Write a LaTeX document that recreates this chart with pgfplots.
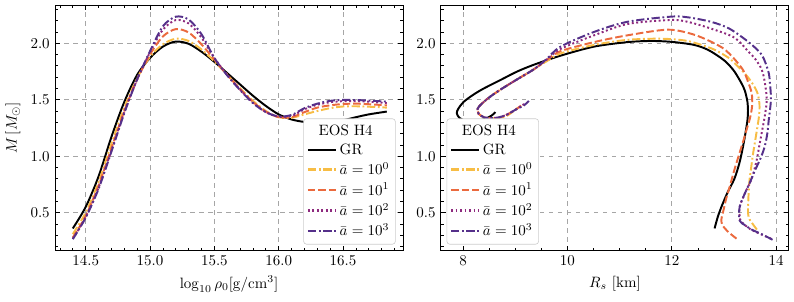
\documentclass[border=0pt]{standalone}
\usepackage{pgfplots}
\pgfplotsset{compat=1.18}
\definecolor{ca0}{HTML}{F7BD45}
\definecolor{ca1}{HTML}{EB6A3E}
\definecolor{ca2}{HTML}{8E2A7E}
\definecolor{ca3}{HTML}{55308A}
\pgfplotsset{
 myaxis/.style={
   scale only axis, width=232pt, height=164pt,
   ymin=0.161, ymax=2.339,
   ytick={0.5,1.0,1.5,2.0},
   minor ytick={0.2,0.3,...,2.31},
   tick align=inside,
   major tick length=3.5pt, minor tick length=2pt,
   every tick/.style={black, line width=0.5pt},
   grid=major,
   major grid style={dashed, black!35, line width=0.4pt},
   yticklabel style={/pgf/number format/.cd,fixed,fixed zerofill,precision=1},
   axis line style={line width=0.6pt},
   legend cell align=left,
   legend image code/.code={\draw[##1, line width=1.6pt, sharp plot] (0cm,0cm) -- (0.65cm,0cm);},
   legend style={draw=black!20, rounded corners=2pt, fill=white, inner sep=2pt, row sep=0pt},
 },
 gr/.style={black, line width=1.3pt, smooth, no markers},
 a0/.style={ca0, line width=1.3pt, dash pattern=on 5.5pt off 1.8pt on 1.2pt off 1.8pt, smooth, no markers},
 a1/.style={ca1, line width=1.3pt, dash pattern=on 5pt off 2pt, smooth, no markers},
 a2/.style={ca2, line width=1.3pt, dash pattern=on 1.3pt off 1.7pt, smooth, no markers},
 a3/.style={ca3, line width=1.3pt, dash pattern=on 5.5pt off 1.8pt on 1.2pt off 1.8pt, smooth, no markers},
}
\begin{document}
\begin{tikzpicture}
\begin{axis}[myaxis,
  at={(0pt,0pt)}, anchor=south west,
  xmin=14.262, xmax=16.966,
  xtick={14.5,15.0,15.5,16.0,16.5},
  minor xtick={14.3,14.4,...,16.95},
  xticklabel style={/pgf/number format/.cd,fixed,fixed zerofill,precision=1},
  xlabel={$\log_{10}\rho_0[\mathrm{g/cm^3}]$},
  ylabel={$M\,[M_\odot]$},
  legend style={at={(0.979,0.026)}, anchor=south east},
]
\addlegendimage{empty legend}
\addlegendentry{\hspace{-14pt}EOS H4}
\addplot[gr] coordinates {(14.40,0.36)(14.50,0.55)(14.60,0.82)(14.70,1.17)(14.80,1.48)(14.90,1.72)(15.00,1.87)(15.10,1.97)(15.20,2.015)(15.30,1.995)(15.40,1.925)(15.50,1.835)(15.60,1.735)(15.70,1.635)(15.80,1.535)(15.90,1.445)(16.00,1.37)(16.10,1.325)(16.20,1.303)(16.30,1.297)(16.40,1.302)(16.50,1.318)(16.60,1.345)(16.70,1.37)(16.84,1.395)};
\addlegendentry{GR}
\addplot[a0] coordinates {(14.40,0.31)(14.50,0.50)(14.60,0.77)(14.70,1.11)(14.80,1.43)(14.90,1.69)(15.00,1.88)(15.10,1.99)(15.20,2.04)(15.30,2.02)(15.40,1.945)(15.50,1.84)(15.60,1.72)(15.70,1.60)(15.80,1.49)(15.90,1.40)(16.00,1.345)(16.10,1.34)(16.20,1.37)(16.30,1.40)(16.40,1.425)(16.50,1.44)(16.60,1.442)(16.70,1.438)(16.84,1.43)};
\addlegendentry{$\bar{a}=10^0$}
\addplot[a1] coordinates {(14.40,0.28)(14.50,0.47)(14.60,0.74)(14.70,1.07)(14.80,1.40)(14.90,1.68)(15.00,1.90)(15.10,2.06)(15.20,2.125)(15.30,2.095)(15.40,1.99)(15.50,1.855)(15.60,1.72)(15.70,1.595)(15.80,1.48)(15.90,1.395)(16.00,1.345)(16.10,1.345)(16.20,1.39)(16.30,1.43)(16.40,1.45)(16.50,1.462)(16.60,1.465)(16.70,1.46)(16.84,1.45)};
\addlegendentry{$\bar{a}=10^1$}
\addplot[a2] coordinates {(14.40,0.27)(14.50,0.46)(14.60,0.72)(14.70,1.05)(14.80,1.39)(14.90,1.68)(15.00,1.92)(15.10,2.12)(15.20,2.205)(15.30,2.175)(15.40,2.05)(15.50,1.87)(15.60,1.72)(15.70,1.59)(15.80,1.475)(15.90,1.39)(16.00,1.35)(16.10,1.355)(16.20,1.415)(16.30,1.455)(16.40,1.478)(16.50,1.487)(16.60,1.487)(16.70,1.482)(16.84,1.47)};
\addlegendentry{$\bar{a}=10^2$}
\addplot[a3] coordinates {(14.40,0.265)(14.50,0.455)(14.60,0.71)(14.70,1.04)(14.80,1.38)(14.90,1.68)(15.00,1.93)(15.10,2.15)(15.20,2.235)(15.30,2.21)(15.40,2.08)(15.50,1.87)(15.60,1.715)(15.70,1.585)(15.80,1.47)(15.90,1.39)(16.00,1.352)(16.10,1.365)(16.20,1.425)(16.30,1.465)(16.40,1.49)(16.50,1.498)(16.60,1.497)(16.70,1.492)(16.84,1.483)};
\addlegendentry{$\bar{a}=10^3$}
\end{axis}
\begin{axis}[myaxis,
  at={(257.3pt,0pt)}, anchor=south west,
  xmin=7.577, xmax=14.244,
  xtick={8,10,12,14},
  minor xtick={8,8.5,...,14},
  xlabel={$R_s\ [\mathrm{km}]$},
  legend style={at={(0.016,0.026)}, anchor=south west},
]
\addlegendimage{empty legend}
\addlegendentry{\hspace{-14pt}EOS H4}
\addplot[gr] coordinates {(12.82,0.36)(12.88,0.46)(12.95,0.55)(13.07,0.68)(13.20,0.80)(13.29,0.93)(13.35,1.05)(13.41,1.20)(13.45,1.32)(13.46,1.40)(13.45,1.48)(13.40,1.58)(13.33,1.65)(13.20,1.75)(13.07,1.82)(12.95,1.867)(12.70,1.94)(12.43,1.985)(12.0,2.012)(11.6,2.02)(11.15,2.01)(10.51,1.97)(9.87,1.89)(9.36,1.81)(9.04,1.75)(8.72,1.675)(8.40,1.60)(8.20,1.545)(8.01,1.48)(7.91,1.42)(7.88,1.38)(7.93,1.34)(8.03,1.315)(8.14,1.305)(8.28,1.31)(8.42,1.33)(8.55,1.36)(8.62,1.39)};
\addlegendentry{GR}
\addplot[a0] coordinates {(13.63,0.35)(13.55,0.40)(13.49,0.44)(13.46,0.50)(13.47,0.65)(13.49,0.79)(13.53,0.93)(13.56,1.03)(13.62,1.20)(13.67,1.35)(13.68,1.46)(13.64,1.56)(13.55,1.64)(13.44,1.71)(13.30,1.78)(13.12,1.86)(12.95,1.91)(12.75,1.956)(12.3,2.02)(11.8,2.04)(11.15,2.03)(10.51,1.985)(9.87,1.91)(9.6,1.84)(9.36,1.77)(9.0,1.67)(8.72,1.59)(8.50,1.52)(8.35,1.46)(8.28,1.42)(8.30,1.375)(8.40,1.345)(8.52,1.336)(8.70,1.34)(8.85,1.36)(8.97,1.40)(9.05,1.43)};
\addlegendentry{$\bar{a}=10^0$}
\addplot[a1] coordinates {(13.24,0.27)(13.08,0.33)(12.97,0.39)(12.95,0.44)(12.98,0.50)(13.04,0.62)(13.11,0.73)(13.20,0.88)(13.30,1.03)(13.38,1.15)(13.43,1.23)(13.50,1.34)(13.54,1.45)(13.53,1.56)(13.46,1.66)(13.37,1.76)(13.2,1.86)(13.0,1.95)(12.75,2.014)(12.4,2.08)(11.92,2.12)(11.15,2.07)(10.51,2.01)(9.87,1.93)(9.6,1.85)(9.36,1.77)(9.0,1.67)(8.72,1.59)(8.50,1.52)(8.35,1.46)(8.28,1.42)(8.30,1.375)(8.40,1.345)(8.52,1.336)(8.70,1.34)(8.85,1.37)(9.0,1.41)(9.12,1.45)};
\addlegendentry{$\bar{a}=10^1$}
\addplot[a2] coordinates {(13.90,0.27)(13.70,0.31)(13.50,0.355)(13.38,0.40)(13.31,0.44)(13.30,0.55)(13.40,0.67)(13.53,0.80)(13.62,0.95)(13.68,1.10)(13.72,1.2)(13.78,1.35)(13.82,1.50)(13.78,1.66)(13.72,1.77)(13.60,1.86)(13.46,1.93)(13.20,2.05)(12.75,2.13)(12.3,2.19)(11.97,2.206)(11.15,2.17)(10.51,2.07)(9.87,1.95)(9.6,1.855)(9.36,1.77)(9.0,1.67)(8.72,1.59)(8.50,1.52)(8.35,1.46)(8.28,1.42)(8.30,1.375)(8.40,1.345)(8.52,1.336)(8.70,1.345)(8.85,1.37)(9.0,1.41)(9.2,1.47)};
\addlegendentry{$\bar{a}=10^2$}
\addplot[a3] coordinates {(13.93,0.26)(13.72,0.31)(13.53,0.35)(13.40,0.39)(13.30,0.43)(13.30,0.55)(13.40,0.67)(13.50,0.77)(13.59,0.87)(13.70,0.98)(13.78,1.085)(13.83,1.20)(13.86,1.33)(13.90,1.50)(13.88,1.65)(13.85,1.75)(13.72,1.90)(13.46,2.014)(13.1,2.13)(12.75,2.19)(12.3,2.23)(11.97,2.235)(11.15,2.19)(10.51,2.10)(9.87,1.97)(9.6,1.86)(9.36,1.77)(9.0,1.67)(8.72,1.59)(8.50,1.52)(8.35,1.46)(8.28,1.42)(8.30,1.375)(8.40,1.345)(8.52,1.336)(8.70,1.345)(8.85,1.37)(9.0,1.41)(9.17,1.45)(9.26,1.49)};
\addlegendentry{$\bar{a}=10^3$}
\end{axis}
\pgfresetboundingbox
\path[use as bounding box] (-36.7pt,-34pt) rectangle (492.7pt,167.3pt);
\end{tikzpicture}
\end{document}
